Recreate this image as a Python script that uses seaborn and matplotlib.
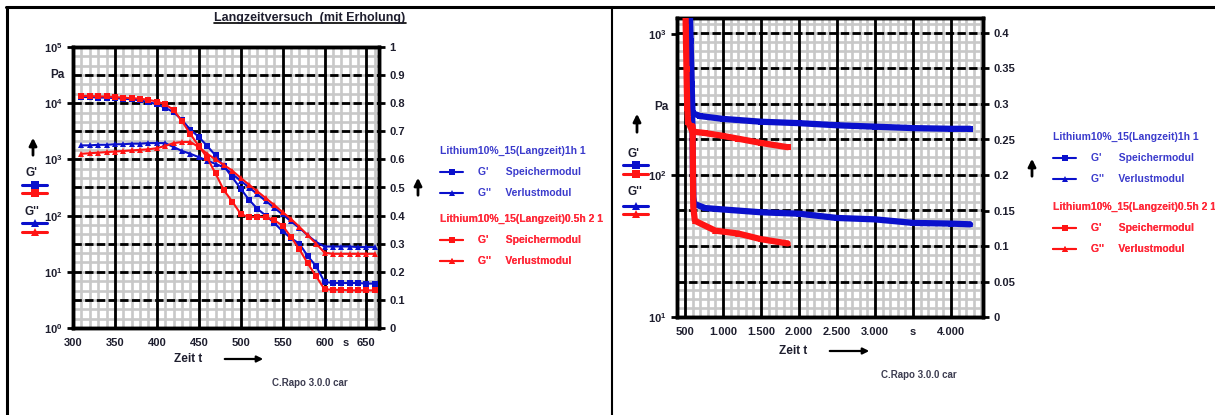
import numpy as np
import matplotlib
matplotlib.use("Agg")
import matplotlib.pyplot as plt
import seaborn as sns
from matplotlib.lines import Line2D
from matplotlib.patches import FancyArrowPatch
from matplotlib.ticker import FixedLocator, FixedFormatter, NullLocator
from matplotlib.transforms import IdentityTransform

# ---------------- data (log10 of Pa) ----------------
# left chart: Langzeitversuch (mit Erholung)
t_left = [310, 320, 330, 340, 350, 360, 370, 380, 390, 400, 410, 420, 430, 440, 450, 460, 470, 480,
          490, 500, 510, 520, 530, 540, 550, 560, 570, 580, 590, 600, 610, 620, 630, 640, 650, 660]
s1_gp_left = [4.11, 4.11, 4.10, 4.10, 4.09, 4.08, 4.07, 4.05, 4.02, 3.98, 3.92, 3.84, 3.70, 3.53, 3.40, 3.24, 3.07, 2.88,
              2.68, 2.48, 2.28, 2.12, 2.00, 1.87, 1.72, 1.60, 1.50, 1.28, 1.10, 0.82, 0.80, 0.80, 0.80, 0.80, 0.79, 0.79]
s1_gpp_left = [3.25, 3.25, 3.26, 3.26, 3.27, 3.27, 3.28, 3.28, 3.29, 3.29, 3.29, 3.22, 3.15, 3.10, 3.04, 2.98, 2.92, 2.86,
               2.74, 2.62, 2.50, 2.38, 2.26, 2.14, 2.02, 1.90, 1.78, 1.65, 1.53, 1.45, 1.45, 1.45, 1.45, 1.44, 1.44, 1.44]
s2_gp_left = [4.13, 4.13, 4.12, 4.12, 4.11, 4.10, 4.09, 4.08, 4.06, 4.03, 3.98, 3.88, 3.68, 3.45, 3.24, 3.03, 2.75, 2.45,
              2.25, 2.03, 1.97, 1.98, 1.97, 1.92, 1.82, 1.62, 1.40, 1.15, 0.92, 0.69, 0.68, 0.68, 0.67, 0.67, 0.67, 0.67]
s2_gpp_left = [3.10, 3.11, 3.12, 3.13, 3.14, 3.15, 3.16, 3.17, 3.18, 3.20, 3.24, 3.29, 3.31, 3.31, 3.22, 3.10, 3.00, 2.90,
               2.80, 2.67, 2.55, 2.43, 2.31, 2.19, 2.06, 1.94, 1.80, 1.65, 1.50, 1.34, 1.32, 1.32, 1.32, 1.32, 1.32, 1.32]

# right chart
t_s1_gp_right = [560, 567, 574, 581, 588, 594, 600, 700, 1000, 1500, 2000, 2500, 3000, 3500, 4000, 4250]
s1_gp_right = [3.25, 3.10, 2.95, 2.80, 2.65, 2.52, 2.44, 2.42, 2.40, 2.38, 2.37, 2.355, 2.345, 2.335, 2.33, 2.33]
t_s1_gpp_right = [596, 600, 605, 610, 620, 765, 1000, 1500, 2000, 2500, 3000, 3500, 4000, 4250]
s1_gpp_right = [2.40, 2.25, 2.02, 1.85, 1.80, 1.77, 1.76, 1.74, 1.73, 1.70, 1.69, 1.665, 1.66, 1.655]
t_s2_gp_right = [505, 510, 515, 520, 525, 530, 540, 600, 765, 1000, 1200, 1500, 1850]
s2_gp_right = [3.25, 3.05, 2.90, 2.75, 2.60, 2.48, 2.38, 2.31, 2.30, 2.28, 2.26, 2.23, 2.20]
t_s2_gpp_right = [600, 603, 606, 609, 630, 900, 1200, 1500, 1850]
s2_gpp_right = [2.35, 2.15, 1.95, 1.78, 1.68, 1.61, 1.59, 1.55, 1.52]

# ticks / labels
left_xticks = [300, 350, 400, 450, 500, 550, 600, 650]
left_xlabels = ["300", "350", "400", "450", "500", "550", "600", "650"]
left_ydec = [0, 1, 2, 3, 4, 5]
left_rticks = [0, 0.1, 0.2, 0.3, 0.4, 0.5, 0.6, 0.7, 0.8, 0.9, 1]
right_xticks = [500, 1000, 1500, 2000, 2500, 3000, 3500, 4000]
right_xlabels = ["500", "1.000", "1.500", "2.000", "2.500", "3.000", "s", "4.000"]
right_ydec = [1, 2, 3]
right_rticks = [0, 0.05, 0.1, 0.15, 0.2, 0.25, 0.3, 0.35, 0.4]

title_text = "Langzeitversuch  (mit Erholung)"
legend1_title = "Lithium10%_15(Langzeit)1h 1"
legend2_title = "Lithium10%_15(Langzeit)0.5h 2 1"
lab_gp = "G'      Speichermodul"
lab_gpp = "G''     Verlustmodul"
footer = "C.Rapo 3.0.0 car"

# ---------------- style ----------------
sns.set_style("white")
plt.rcParams["font.family"] = ["Liberation Sans", "DejaVu Sans"]
plt.rcParams["font.weight"] = "bold"
plt.rcParams["mathtext.fontset"] = "custom"
plt.rcParams["mathtext.bf"] = "Liberation Sans:bold"
plt.rcParams["mathtext.rm"] = "Liberation Sans:bold"

BLUE = "#0a10cc"
RED = "#ff1414"
BLUE_T = "#3a3acc"
RED_T = "#ff2a3a"
TXT = "#1e1e2e"
GRAY = "#c8c8c8"

W, H = 1215, 415
fig = plt.figure(figsize=(W / 100, H / 100), dpi=100)


def fx(px):
    return px / W


def fy(py):
    return 1 - py / H


def panel(px0, px1, py_top, py_bot, xlim, ylog, rlim, xminor, xmajor, rminor, rmajor_step):
    ax = fig.add_axes([fx(px0), fy(py_bot), (px1 - px0) / W, (py_bot - py_top) / H])
    ax2 = ax.twinx()
    ax.set_zorder(2)
    ax2.set_zorder(1)
    ax.patch.set_visible(False)
    ax.set_xlim(*xlim)
    ax.set_yscale("log")
    ax.set_ylim(10 ** ylog[0], 10 ** ylog[1])
    ax2.set_ylim(*rlim)
    # grid mesh drawn on background axis
    xm = np.arange(xlim[0] - xlim[0] % xminor, xlim[1] + 1, xminor)
    ax2.vlines(xm, 0, 1, transform=ax2.get_xaxis_transform(), color=GRAY, lw=1.9, zorder=1)
    rm = np.arange(0, rlim[1] + 1e-9, rminor)
    ax2.hlines(rm, 0, 1, transform=ax2.get_yaxis_transform(), color=GRAY, lw=1.9, zorder=1)
    rM = np.arange(0, rlim[1] + 1e-9, rmajor_step)
    ax2.hlines(rM, 0, 1, transform=ax2.get_yaxis_transform(), color="black", lw=2.0,
               linestyles=(0, (3, 1.2)), zorder=2)
    ax2.vlines(xmajor, 0, 1, transform=ax2.get_xaxis_transform(), color="black", lw=2.0, zorder=3)
    for a in (ax, ax2):
        for s in a.spines.values():
            s.set_linewidth(2.5)
            s.set_color("black")
    ax.tick_params(axis="both", which="major", direction="out", length=4, width=2,
                   labelsize=8, labelcolor=TXT, color="black")
    ax2.tick_params(axis="y", which="major", direction="out", length=4, width=2,
                    labelsize=8, labelcolor=TXT, color="black")
    ax.yaxis.set_minor_locator(NullLocator())
    ax.xaxis.set_minor_locator(NullLocator())
    ax2.yaxis.set_minor_locator(NullLocator())
    return ax, ax2


def draw(ax, t, v, color, marker, lw=1.5, ms=5):
    sns.lineplot(x=t, y=10 ** np.asarray(v), ax=ax, color=color, marker=marker, markersize=ms,
                 markeredgewidth=0, linewidth=lw, sort=False, estimator=None, zorder=5)


# ---------------- left panel ----------------
axL, axL2 = panel(73, 379, 47, 328, (300, 665), (0, 5), (0, 1), 10, left_xticks, 0.1 / 3, 0.1)
draw(axL, t_left, s1_gp_left, BLUE, "s")
draw(axL, t_left, s1_gpp_left, BLUE, "^")
draw(axL, t_left, s2_gp_left, RED, "s")
draw(axL, t_left, s2_gpp_left, RED, "^")
axL.xaxis.set_major_locator(FixedLocator(left_xticks))
axL.xaxis.set_major_formatter(FixedFormatter(left_xlabels))
axL.yaxis.set_major_locator(FixedLocator([10.0 ** d for d in left_ydec]))
axL.yaxis.set_major_formatter(FixedFormatter([r"$\mathbf{10^{%d}}$" % d for d in left_ydec]))
axL.yaxis.set_minor_locator(NullLocator())
axL2.yaxis.set_major_locator(FixedLocator(left_rticks))
axL2.yaxis.set_major_formatter(FixedFormatter(["%g" % r for r in left_rticks]))
axL.annotate("s", xy=(625, 0), xycoords=("data", "axes fraction"), xytext=(0, -7.5),
             textcoords="offset points", ha="center", va="top", fontsize=8, color=TXT, weight="bold")
axL.set_xlabel("")
axL.set_ylabel("")

# ---------------- right panel ----------------
axR, axR2 = panel(677, 983, 18, 317, (395, 4420), (1, 1 + 299 / 141.5), (0, 0.4 * 299 / 284), 100,
                  right_xticks, 0.0125, 0.05)
draw(axR, t_s1_gp_right, s1_gp_right, BLUE, "s", lw=4.5, ms=5)
draw(axR, t_s1_gpp_right, s1_gpp_right, BLUE, "^", lw=4.5, ms=5)
draw(axR, t_s2_gp_right, s2_gp_right, RED, "s", lw=4.5, ms=5)
draw(axR, t_s2_gpp_right, s2_gpp_right, RED, "^", lw=4.5, ms=5)
axR.xaxis.set_major_locator(FixedLocator(right_xticks))
axR.xaxis.set_major_formatter(FixedFormatter(right_xlabels))
axR.yaxis.set_major_locator(FixedLocator([10.0 ** d for d in right_ydec]))
axR.yaxis.set_major_formatter(FixedFormatter([r"$\mathbf{10^{%d}}$" % d for d in right_ydec]))
axR.yaxis.set_minor_locator(NullLocator())
axR2.yaxis.set_major_locator(FixedLocator(right_rticks))
axR2.yaxis.set_major_formatter(FixedFormatter(["%g" % r for r in right_rticks]))
axR.set_xlabel("")
axR.set_ylabel("")

# ---------------- legends ----------------
def add_legend(ax, color, tcolor, title, x, y):
    handles = [Line2D([], [], color=color, marker="s", ms=5, mew=0, lw=1.5),
               Line2D([], [], color=color, marker="^", ms=5, mew=0, lw=1.5)]
    leg = ax.legend(handles, [lab_gp, lab_gpp], title=title, loc="upper left",
                    bbox_to_anchor=(x, y), bbox_transform=fig.transFigure, frameon=False,
                    borderpad=0, handlelength=2.2, handletextpad=1.4, labelspacing=1.05,
                    alignment="left", numpoints=1, prop={"size": 7.5, "weight": "bold"},
                    title_fontproperties={"size": 7.5, "weight": "bold"})
    for t in leg.get_texts():
        t.set_color(tcolor)
    leg.get_title().set_color(tcolor)
    ax.add_artist(leg)
    return leg


add_legend(axL, BLUE, BLUE_T, legend1_title, fx(435), fy(141))
add_legend(axL, RED, RED_T, legend2_title, fx(435), fy(209))
add_legend(axR, BLUE, BLUE_T, legend1_title, fx(1048), fy(127))
add_legend(axR, RED, RED_T, legend2_title, fx(1048), fy(197))

# ---------------- annotations ----------------
def ftext(px, py, s, **kw):
    kw.setdefault("fontsize", 8.5)
    kw.setdefault("weight", "bold")
    kw.setdefault("color", TXT)
    kw.setdefault("ha", "center")
    kw.setdefault("va", "center")
    return fig.text(fx(px), fy(py), s, **kw)


def key(px0, px1, py, color, marker):
    fig.add_artist(Line2D([fx(px0), fx((px0 + px1) / 2), fx(px1)], [fy(py)] * 3, color=color, lw=2.2,
                          marker=marker, ms=6, mew=0, markevery=[1], transform=fig.transFigure))


def arrow(p0, p1, lw=2.0, ms=11):
    fig.add_artist(FancyArrowPatch((fx(p0[0]), fy(p0[1])), (fx(p1[0]), fy(p1[1])),
                                   transform=fig.transFigure, arrowstyle="-|>", mutation_scale=ms,
                                   lw=lw, color="black"))


# left panel side labels
ftext(57, 75, "Pa")
arrow((33, 158), (33, 135))
ftext(31, 173, "G'")
key(22, 47, 185, BLUE, "s")
key(22, 47, 193, RED, "s")
ftext(32, 212, "G''")
key(22, 47, 223, BLUE, "^")
key(22, 47, 232, RED, "^")
arrow((418, 198), (418, 175))
ftext(188, 359, "Zeit t", fontsize=8.5)
arrow((222, 359), (266, 359), lw=1.6, ms=9)
ftext(310, 383, footer, fontsize=7, color="#3c3c50")
title = ftext(310, 18, title_text, fontsize=9)

# right panel side labels
ftext(661, 107, "Pa")
arrow((637, 135), (637, 111))
ftext(633, 154, "G'")
key(623, 648, 165, BLUE, "s")
key(623, 648, 174, RED, "s")
ftext(635, 192, "G''")
key(623, 648, 206, BLUE, "^")
key(623, 648, 214, RED, "^")
arrow((1032, 179), (1032, 156))
ftext(793, 351, "Zeit t", fontsize=8.5)
arrow((827, 351), (872, 351), lw=1.6, ms=9)
ftext(919, 375, footer, fontsize=7, color="#3c3c50")

# frame lines
fig.add_artist(Line2D([fx(6), 1], [fy(7), fy(7)], color="black", lw=2.2, transform=fig.transFigure))
fig.add_artist(Line2D([fx(7), fx(7)], [fy(7), 0], color="black", lw=2.2, transform=fig.transFigure))
fig.add_artist(Line2D([fx(612), fx(612)], [fy(7), 0], color="black", lw=1.5, transform=fig.transFigure))

# underline the title
fig.canvas.draw()
bb = title.get_window_extent()
fig.add_artist(Line2D([bb.x0, bb.x1], [bb.y0 + 0.5, bb.y0 + 0.5], color="black", lw=1.2,
                      transform=IdentityTransform()))

fig.savefig("out.png", dpi=100)
